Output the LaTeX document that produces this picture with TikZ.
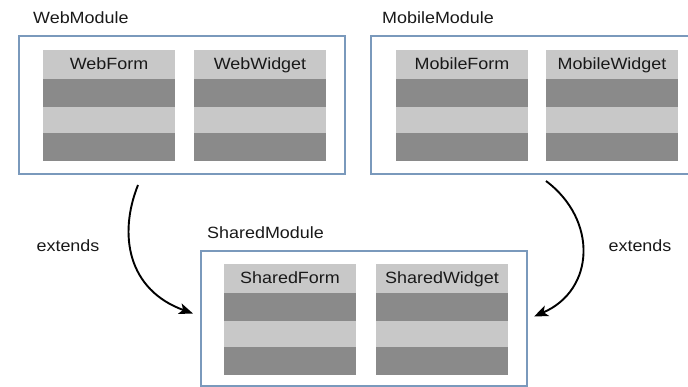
\documentclass[tikz,border=0pt]{standalone}
\usepackage{fontspec}
\setmainfont{Liberation Sans}
\newfontfamily\lblfont[FakeStretch=1.1]{Liberation Sans}
\usetikzlibrary{arrows.meta,calc}
\definecolor{modline}{RGB}{122,153,188}
\definecolor{hdrgray}{RGB}{200,200,200}
\definecolor{drkgray}{RGB}{138,138,138}
\definecolor{txtgray}{RGB}{25,25,25}
\newcommand\classblk[4]{%
  \node[hdrrow] (#1) at (#2,#3) {#4};
  \node[drkrow] (#1-r1) at (#1.south west) {};
  \node[lgtrow] (#1-r2) at (#1-r1.south west) {};
  \node[drkrow] (#1-r3) at (#1-r2.south west) {};
}
\begin{document}
\begin{tikzpicture}[x=1pt,y=-1pt,
  lbl/.style={font=\lblfont\fontsize{16.3}{19}\selectfont, text=txtgray, inner sep=0pt},
  modbox/.style={draw=modline, line width=2pt, minimum width=326pt, inner sep=0pt, anchor=north west},
  rowbase/.style={minimum width=132pt, inner sep=0pt, outer sep=0pt, anchor=north west},
  hdrrow/.style={rowbase, fill=hdrgray, minimum height=29pt, lbl, text height=11pt, text depth=0pt},
  drkrow/.style={rowbase, fill=drkgray, minimum height=28pt},
  lgtrow/.style={rowbase, fill=hdrgray, minimum height=26pt},
  arr/.style={line width=1.9pt, -{Stealth[length=14pt,width=11pt,inset=3.5pt]}}]
\useasboundingbox (0,0) rectangle (688,387);
\clip (0,0) rectangle (688,387);

% module boxes
\node[modbox, minimum height=138pt] (web) at (18,35) {};
\node[modbox, minimum height=138pt] (mobile) at (370,35) {};
\node[modbox, minimum height=135pt] (shared) at (200,250) {};

% module labels
\node[lbl, anchor=base west] (webl) at (33,24) {WebModule};
\node[lbl, anchor=base west] (mobilel) at (382,24) {MobileModule};
\node[lbl, anchor=base west] (sharedl) at (207,239) {SharedModule};

% class blocks
\classblk{webform}{43}{50}{WebForm}
\classblk{webwidget}{194}{50}{WebWidget}
\classblk{mobileform}{396}{50}{MobileForm}
\classblk{mobilewidget}{546}{50}{MobileWidget}
\classblk{sharedform}{224}{264}{SharedForm}
\classblk{sharedwidget}{376}{264}{SharedWidget}

% connector ends
\coordinate (a1) at ($(web.south west)+(120,10)$);
\coordinate (a2) at ($(shared.west)+(-7,-5)$);
\coordinate (b1) at ($(mobile.south west)+(176,6)$);
\coordinate (b2) at ($(shared.east)+(6,-2)$);

\draw[arr] (a1) .. controls (118,235) and (128,290) .. (a2);
\draw[arr] (b1) .. controls (598,220) and (595,290) .. (b2);

% edge labels
\node[lbl, anchor=base] (ext1) at (68,252) {extends};
\node[lbl, anchor=base] (ext2) at (640,252) {extends};
\end{tikzpicture}
\end{document}
